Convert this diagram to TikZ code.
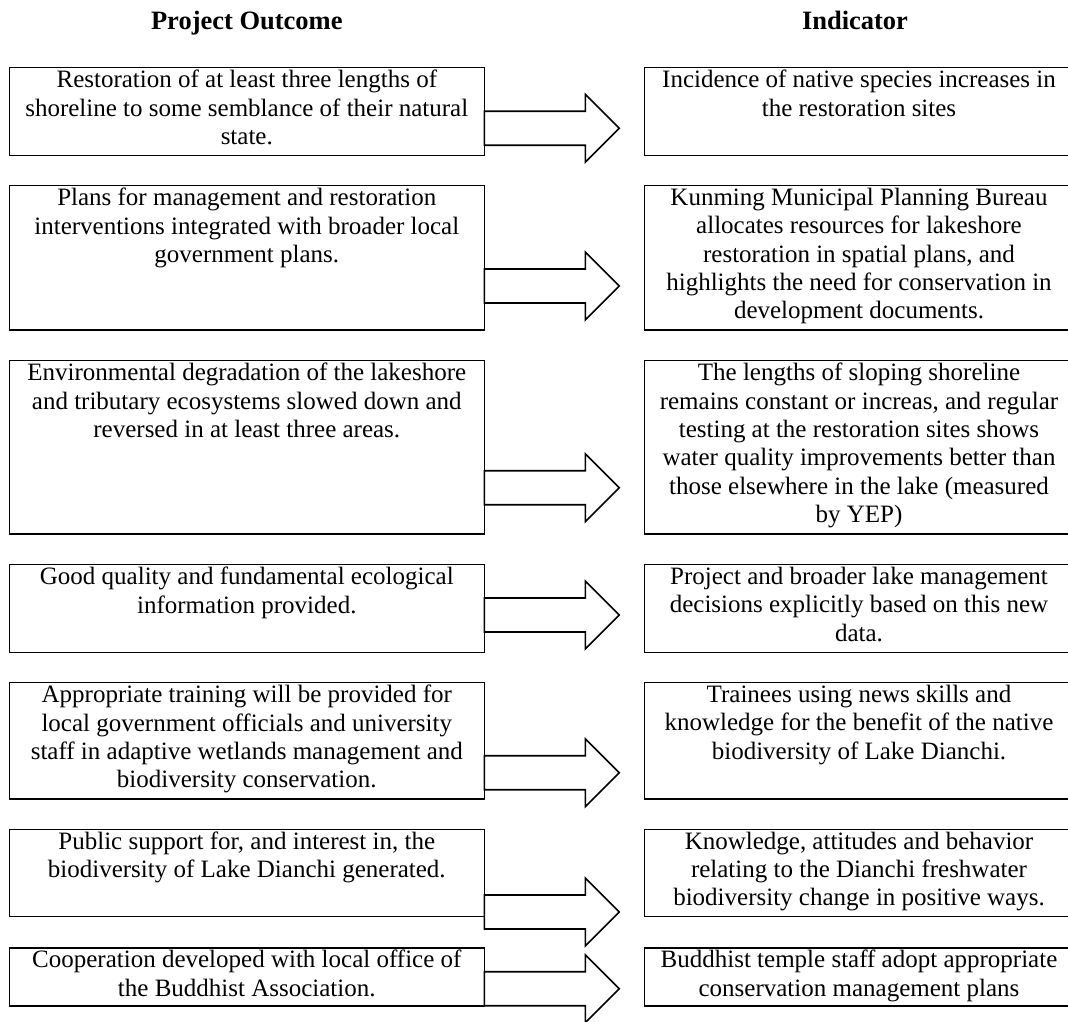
\documentclass[tikz,border=0pt]{standalone}
\usepackage{fontspec}
\setmainfont{Liberation Serif}
\begin{document}
\begin{tikzpicture}[x=1pt,y=-1pt,
  box/.style={draw, line width=1.1pt, inner sep=0pt, outer sep=0pt, anchor=north west},
  txt/.style={align=center, inner sep=0pt, outer sep=0pt, anchor=north, font=\fontsize{25}{28.4}\selectfont, execute at begin node={\rule{0pt}{20pt}}},
  ttl/.style={inner sep=0pt, anchor=base, font=\fontsize{26.5}{30}\selectfont\bfseries},
  blk/.style={draw, line width=1.6pt, line join=miter, fill=white}]
\useasboundingbox (0,0) rectangle (1068,1022);
\clip (0,0) rectangle (1068,1022);
\def\lw{475pt}
\def\rw{428.6pt}
% titles
\node[ttl] (tL) at (246.8,30) {Project Outcome};
\node[ttl] (tR) at (855,30) {Indicator};
% boxes
\foreach \n/\t/\h in {1/67.7/87.6, 2/185.7/144.3, 3/360.7/173.3, 4/564.7/87.6, 5/682.7/116.3, 6/829.5/86.8, 7/948/58}{
  \node[box, minimum width=\lw, minimum height=\h pt] (L\n) at (9.3,\t) {};
  \node[box, minimum width=\rw, minimum height=\h pt] (R\n) at (644.7,\t) {};
}
% texts
\node[txt] (L1t) at ([yshift=-2.3pt]L1.north) {Restoration of at least three lengths of\\shoreline to some semblance of their natural\\state.};
\node[txt] (R1t) at ([yshift=-2.3pt]R1.north) {Incidence of native species increases in\\the restoration sites};
\node[txt] (L2t) at ([yshift=-2.3pt]L2.north) {Plans for management and restoration\\interventions integrated with broader local\\government plans.};
\node[txt] (R2t) at ([yshift=-2.3pt]R2.north) {Kunming Municipal Planning Bureau\\allocates resources for lakeshore\\restoration in spatial plans, and\\highlights the need for conservation in\\development documents.};
\node[txt] (L3t) at ([yshift=-2.3pt]L3.north) {Environmental degradation of the lakeshore\\and tributary ecosystems slowed down and\\reversed in at least three areas.};
\node[txt] (R3t) at ([yshift=-2.3pt]R3.north) {The lengths of sloping shoreline\\remains constant or increas, and regular\\testing at the restoration sites shows\\water quality improvements better than\\those elsewhere in the lake (measured\\by YEP)};
\node[txt] (L4t) at ([yshift=-2.3pt]L4.north) {Good quality and fundamental ecological\\information provided.};
\node[txt] (R4t) at ([yshift=-2.3pt]R4.north) {Project and broader lake management\\decisions explicitly based on this new\\data.};
\node[txt] (L5t) at ([yshift=-2.3pt]L5.north) {Appropriate training will be provided for\\local government officials and university\\staff in adaptive wetlands management and\\biodiversity conservation.};
\node[txt] (R5t) at ([yshift=-2.3pt]R5.north) {Trainees using news skills and\\knowledge for the benefit of the native\\biodiversity of Lake Dianchi.};
\node[txt] (L6t) at ([yshift=-2.3pt]L6.north) {Public support for, and interest in, the\\biodiversity of Lake Dianchi generated.};
\node[txt] (R6t) at ([yshift=-2.3pt]R6.north) {Knowledge, attitudes and behavior\\relating to the Dianchi freshwater\\biodiversity change in positive ways.};
\node[txt] (L7t) at ([yshift=-2.3pt]L7.north) {Cooperation developed with local office of\\the Buddhist Association.};
\node[txt] (R7t) at ([yshift=-2.3pt]R7.north) {Buddhist temple staff adopt appropriate\\conservation management plans};
% block arrows
\foreach \n/\y in {1/128.3, 2/286, 3/487.7, 4/615, 5/772.7, 6/912, 7/988.7}{
  \coordinate (A\n) at (L\n.east |- 0,\y);
  \draw[blk] (A\n) ++(0,-17) -- ++(101,0) -- ++(0,-17) -- ++(34,34) -- ++(-34,34) -- ++(0,-17) -- ++(-101,0) -- cycle;
}
\end{tikzpicture}
\end{document}
